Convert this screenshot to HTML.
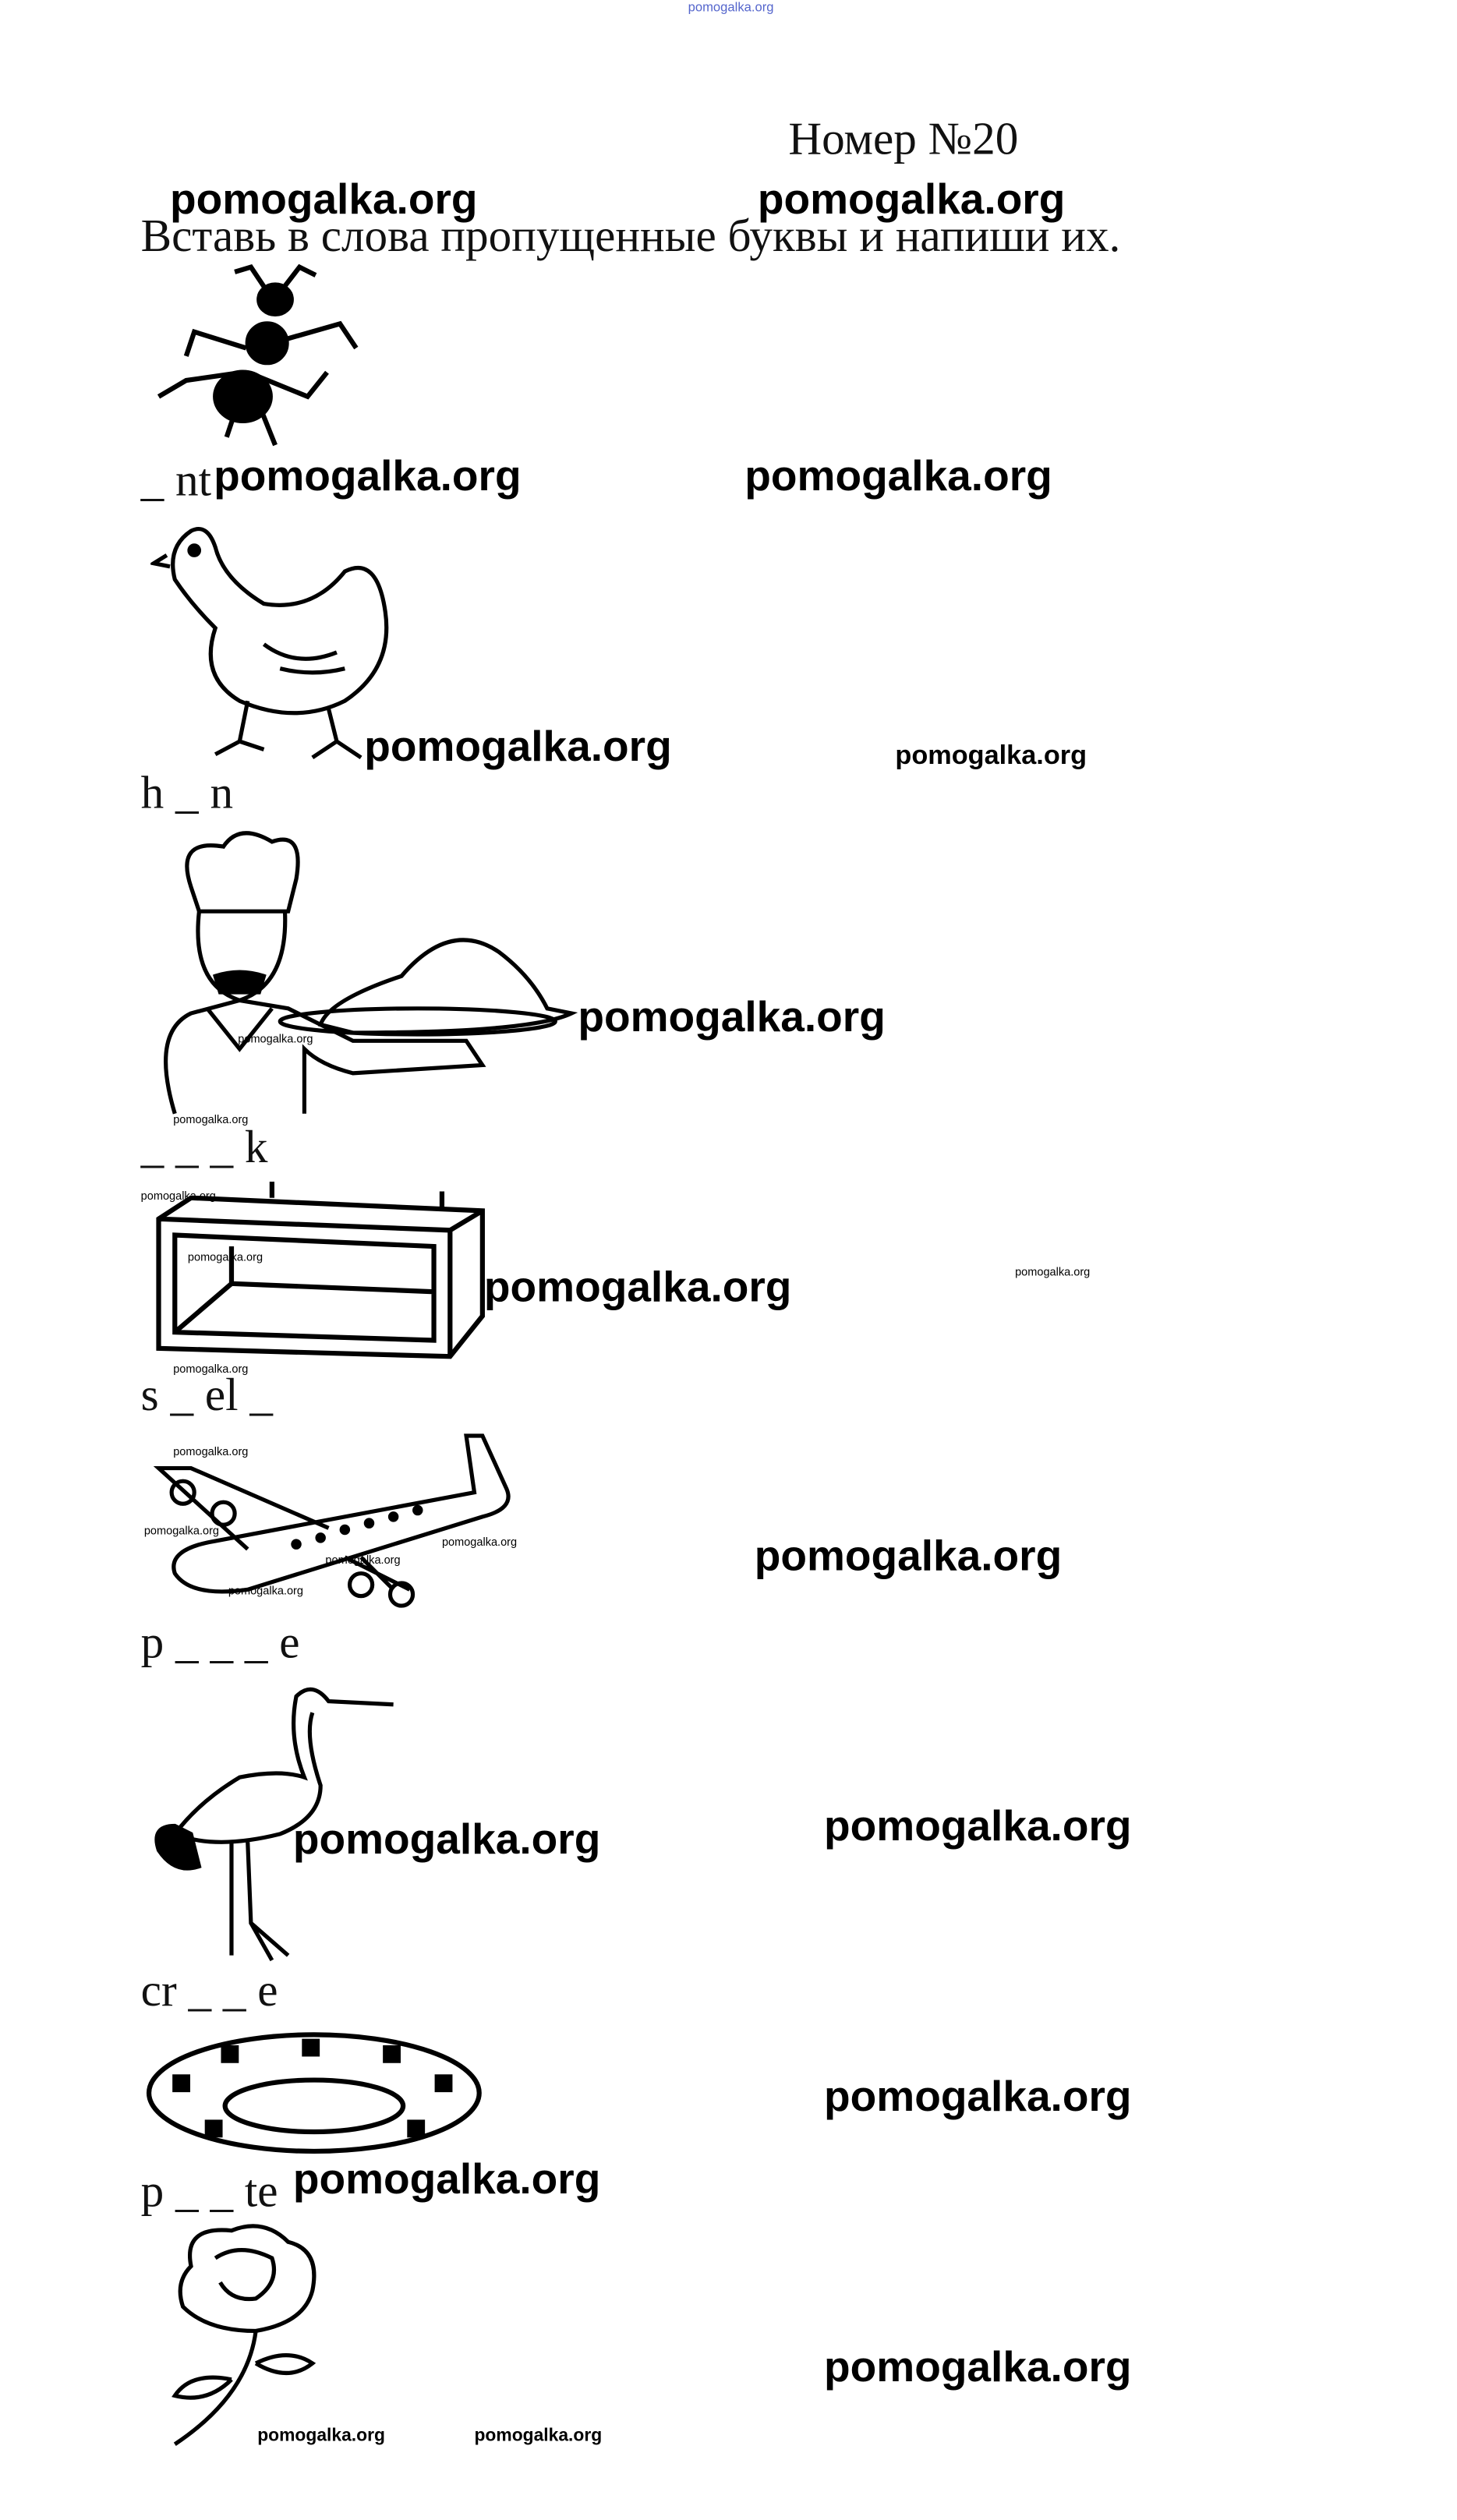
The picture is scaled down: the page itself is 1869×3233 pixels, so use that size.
<!DOCTYPE html>
<html><head><meta charset="utf-8"><style>
html,body{margin:0;padding:0;background:#fff;}
body{width:1869px;height:3233px;overflow:hidden;position:relative;}
#w{position:absolute;left:0;top:0;width:900px;height:1557px;transform:scale(2.0767);transform-origin:0 0;}
.t{position:absolute;white-space:nowrap;line-height:1;}
.s{font-family:"Liberation Serif",serif;font-size:28.5px;color:#111;}
.wm{font-family:"Liberation Sans",sans-serif;font-weight:bold;font-size:26.5px;color:#000;}
.wm2{font-family:"Liberation Sans",sans-serif;font-weight:bold;font-size:16.5px;color:#000;}
.wm3{font-family:"Liberation Sans",sans-serif;font-size:7px;color:#000;}
svg{position:absolute;}
</style></head><body><div id="w">
<div class="t wm3" style="left:425px;top:1px;font-size:8px;color:#5566cc;">pomogalka.org</div>
<div class="t s" style="left:487px;top:73px;">Номер №20</div>
<div class="t wm" style="left:105px;top:110px;">pomogalka.org</div>
<div class="t wm" style="left:468px;top:110px;">pomogalka.org</div>
<div class="t s" style="left:87px;top:133px;">Вставь в слова пропущенные буквы и напиши их.</div>

<svg style="left:90px;top:160px" width="140" height="120" viewBox="0 0 140 120" fill="none" stroke="#000" stroke-width="3">
<ellipse cx="60" cy="85" rx="17" ry="15" fill="#000"/><ellipse cx="75" cy="52" rx="12" ry="12" fill="#000"/><ellipse cx="80" cy="25" rx="10" ry="9" fill="#000"/>
<path d="M62 55 L30 45 L25 60 M60 70 L25 75 L8 85 M68 72 L100 85 L112 70 M85 50 L120 40 L130 55 M72 95 L80 115 M55 95 L50 110 M75 20 L65 5 L55 8 M85 18 L95 5 L105 10"/></svg>
<div class="t s" style="left:87px;top:284px;">_ nt</div>
<div class="t wm" style="left:132px;top:281px;">pomogalka.org</div>
<div class="t wm" style="left:460px;top:281px;">pomogalka.org</div>

<svg style="left:93px;top:318px" width="155" height="158" viewBox="0 0 155 158" fill="none" stroke="#000" stroke-width="2.5">
<path d="M25 10 Q10 20 15 40 Q25 55 40 70 Q30 100 55 115 Q90 130 120 115 Q150 95 145 60 Q140 25 120 35 Q100 60 70 55 Q45 40 40 20 Q35 5 25 10Z"/>
<circle cx="27" cy="22" r="3" fill="#000"/><path d="M10 25 L2 30 L12 32 M60 115 L55 140 L40 148 M55 140 L70 145 M110 120 L115 140 L100 150 M115 140 L130 150 M70 80 Q90 95 115 85 M80 95 Q100 100 120 95"/></svg>
<div class="t wm" style="left:225px;top:448px;">pomogalka.org</div>
<div class="t wm2" style="left:553px;top:459px;">pomogalka.org</div>
<div class="t s" style="left:87px;top:477px;">h _ n</div>

<svg style="left:88px;top:508px" width="270" height="185" viewBox="0 0 270 185" fill="none" stroke="#000" stroke-width="2.5">
<path d="M30 40 Q20 10 50 15 Q60 0 80 12 Q100 5 95 35 L90 55 L35 55 Z"/>
<path d="M35 55 Q30 100 60 110 Q90 100 88 55"/><path d="M45 95 Q60 90 75 95 L72 105 L48 105Z" fill="#000"/>
<path d="M20 180 Q5 130 30 118 L60 110 L90 115 Q110 125 130 135 L200 135 L210 150 L130 155 Q110 150 100 140 L100 180"/>
<path d="M40 115 L60 140 L80 115"/>
<path d="M110 125 Q115 110 160 95 Q190 60 220 80 Q240 95 250 115 L265 118 Q240 130 130 130 Z"/>
<ellipse cx="170" cy="123" rx="85" ry="8"/>
</svg>
<div class="t wm" style="left:357px;top:615px;">pomogalka.org</div>
<div class="t wm3" style="left:147px;top:639px;">pomogalka.org</div>
<div class="t wm3" style="left:107px;top:689px;">pomogalka.org</div>
<div class="t s" style="left:87px;top:696px;">_ _ _ k</div>
<div class="t wm3" style="left:87px;top:736px;">pomogalka.org</div>

<svg style="left:93px;top:728px" width="210" height="115" viewBox="0 0 210 115" fill="none" stroke="#000" stroke-width="3">
<path d="M5 25 L25 12 L205 20 L205 85 L185 110 L5 105 Z M5 25 L185 32 L205 20 M185 32 L185 110 M15 35 L175 42 L175 100 L15 95 Z M15 95 L50 65 L175 70 M50 65 L50 42"/>
<path d="M75 12 L75 2 M180 18 L180 8"/></svg>
<div class="t wm" style="left:299px;top:782px;">pomogalka.org</div>
<div class="t wm3" style="left:627px;top:783px;">pomogalka.org</div>
<div class="t wm3" style="left:116px;top:774px;">pomogalka.org</div>
<div class="t wm3" style="left:107px;top:843px;">pomogalka.org</div>
<div class="t s" style="left:87px;top:849px;">s _ el _</div>
<div class="t wm3" style="left:107px;top:894px;">pomogalka.org</div>

<svg style="left:93px;top:882px" width="225" height="112" viewBox="0 0 225 112" fill="none" stroke="#000" stroke-width="2.5">
<path d="M15 90 Q10 75 40 70 L200 40 L195 5 L205 5 L220 38 Q225 50 205 55 L60 100 Q25 105 15 90Z"/>
<path d="M60 75 L5 25 L25 25 L110 62 M130 80 L150 100 M120 80 L160 100"/>
<circle cx="20" cy="40" r="7"/><circle cx="45" cy="53" r="7"/><circle cx="130" cy="97" r="7"/><circle cx="155" cy="103" r="7"/>
<g fill="#000"><circle cx="90" cy="72" r="2"/><circle cx="105" cy="68" r="2"/><circle cx="120" cy="63" r="2"/><circle cx="135" cy="59" r="2"/><circle cx="150" cy="55" r="2"/><circle cx="165" cy="51" r="2"/></g></svg>
<div class="t wm" style="left:466px;top:948px;">pomogalka.org</div>
<div class="t wm3" style="left:89px;top:943px;">pomogalka.org</div>
<div class="t wm3" style="left:273px;top:950px;">pomogalka.org</div>
<div class="t wm3" style="left:201px;top:961px;">pomogalka.org</div>
<div class="t wm3" style="left:141px;top:980px;">pomogalka.org</div>
<div class="t s" style="left:87px;top:1002px;">p _ _ _ e</div>

<svg style="left:93px;top:1033px" width="155" height="180" viewBox="0 0 155 180" fill="none" stroke="#000" stroke-width="2.5">
<path d="M150 20 L110 18 Q100 5 90 15 Q85 40 95 65 Q80 60 55 65 Q30 80 15 100 Q40 110 80 100 Q105 90 105 70 Q95 40 100 25"/>
<path d="M5 110 Q0 95 15 95 L25 100 L30 120 Q15 125 5 110Z" fill="#000"/>
<path d="M50 105 L50 175 M60 105 L62 155 L85 175 M62 155 L75 178"/></svg>
<div class="t wm" style="left:181px;top:1123px;">pomogalka.org</div>
<div class="t wm" style="left:509px;top:1115px;">pomogalka.org</div>
<div class="t s" style="left:87px;top:1217px;">cr _ _ e</div>

<svg style="left:88px;top:1253px" width="212" height="82" viewBox="0 0 212 82" fill="none" stroke="#000" stroke-width="3">
<ellipse cx="106" cy="40" rx="102" ry="36"/><ellipse cx="106" cy="48" rx="55" ry="16"/>
<g fill="#000"><rect x="20" y="30" width="8" height="8"/><rect x="50" y="12" width="8" height="8"/><rect x="100" y="8" width="8" height="8"/><rect x="150" y="12" width="8" height="8"/><rect x="182" y="30" width="8" height="8"/><rect x="40" y="58" width="8" height="8"/><rect x="165" y="58" width="8" height="8"/></g></svg>
<div class="t wm" style="left:509px;top:1282px;">pomogalka.org</div>
<div class="t s" style="left:87px;top:1341px;">p _ _ te</div>
<div class="t wm" style="left:181px;top:1333px;">pomogalka.org</div>

<svg style="left:98px;top:1370px" width="110" height="145" viewBox="0 0 110 145" fill="none" stroke="#000" stroke-width="2.5">
<path d="M20 30 Q15 5 45 8 Q65 0 80 15 Q100 20 95 45 Q90 65 60 70 Q30 70 15 55 Q10 40 20 30Z M35 25 Q50 15 70 25 Q75 40 60 50 Q45 52 38 40"/>
<path d="M60 70 Q55 110 10 140 M45 100 Q20 95 10 110 Q30 115 45 100 M60 90 Q80 80 95 90 Q80 102 60 90"/></svg>
<div class="t wm" style="left:509px;top:1449px;">pomogalka.org</div>
<div class="t wm3" style="left:159px;top:1500px;font-size:11px;font-weight:bold;">pomogalka.org</div>
<div class="t wm3" style="left:293px;top:1500px;font-size:11px;font-weight:bold;">pomogalka.org</div>
</div></body></html>
